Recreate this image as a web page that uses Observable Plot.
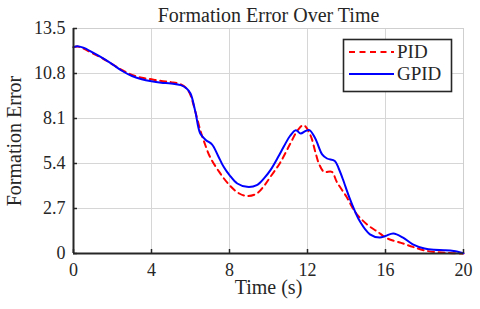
<!DOCTYPE html>
<html>
<head>
<meta charset="utf-8">
<script src="https://cdn.jsdelivr.net/npm/d3@7"></script>
<script src="https://cdn.jsdelivr.net/npm/@observablehq/plot@0.6"></script>
<style>
  html, body { margin: 0; padding: 0; background: #fff; }
  #chart { width: 480px; height: 309px; }
  #chart svg, #chart svg text { font-family: "Liberation Serif", "Times New Roman", "DejaVu Serif", serif !important; }
</style>
</head>
<body>
<div id="chart"></div>
<script>
// ---- data ----
const title = "Formation Error Over Time";
const xLabel = "Time (s)";
const yLabel = "Formation Error";
const xTicks = [0, 4, 8, 12, 16, 20];
const yTicks = [0, 2.7, 5.4, 8.1, 10.8, 13.5];
const yTickLabels = ["0", "2.7", "5.4", "8.1", "10.8", "13.5"];
const seriesNames = ["PID", "GPID"];

const pidT = [0, 0.2, 0.5, 1, 1.5, 2, 2.5, 3, 3.5, 4, 4.5, 5, 5.5, 5.8, 6.0, 6.25, 6.5, 6.7, 7.0, 7.5, 8.0, 8.5, 8.9, 9.4, 9.8, 10.1, 10.6, 11.1, 11.5, 11.8, 12.15, 12.4, 12.6, 12.85, 13.25, 13.5, 14.0, 14.5, 15.1, 15.6, 16.1, 16.8, 17.4, 18.1, 19.1, 20];
const pidE = [12.38, 12.42, 12.3, 12.0, 11.7, 11.35, 11.0, 10.72, 10.55, 10.45, 10.35, 10.28, 10.15, 9.9, 9.5, 8.5, 7.4, 6.7, 5.8, 4.85, 4.1, 3.6, 3.45, 3.6, 4.1, 4.6, 5.45, 6.55, 7.4, 7.7, 7.1, 6.1, 5.35, 4.9, 4.9, 4.3, 3.4, 2.4, 1.7, 1.3, 0.9, 0.64, 0.4, 0.16, 0.04, 0.0];

const gpidT = [0, 0.2, 0.5, 1, 1.5, 2, 2.5, 3, 3.5, 4, 4.5, 5, 5.5, 5.8, 6.0, 6.25, 6.5, 6.8, 7.1, 7.4, 7.7, 8.0, 8.4, 8.9, 9.4, 9.8, 10.1, 10.5, 10.8, 11.1, 11.4, 11.65, 11.9, 12.1, 12.4, 12.75, 13.0, 13.4, 13.6, 13.8, 14.2, 14.7, 15.2, 15.7, 16.0, 16.4, 16.9, 17.4, 18.0, 18.5, 19.0, 19.5, 20];
const gpidE = [12.38, 12.44, 12.35, 12.05, 11.72, 11.35, 10.95, 10.65, 10.45, 10.33, 10.25, 10.2, 10.1, 9.9, 9.6, 8.5, 7.2, 6.8, 6.55, 5.9, 5.2, 4.7, 4.2, 4.0, 4.1, 4.55, 5.0, 5.8, 6.45, 7.05, 7.4, 7.2, 7.35, 7.4, 6.9, 5.95, 5.7, 5.55, 5.1, 4.5, 3.2, 1.9, 1.15, 0.96, 1.05, 1.2, 0.95, 0.55, 0.3, 0.22, 0.2, 0.15, 0.02];

const colors = {PID: "#ff0000", GPID: "#0000ff"};

const pid = pidT.map((t, i) => ({t, e: pidE[i]}));
const gpid = gpidT.map((t, i) => ({t, e: gpidE[i]}));

const W = 480, H = 309;
const mL = 73, mR = 17, mT = 28, mB = 56;
const pw = W - mL - mR, ph = H - mT - mB;
const font = "'Liberation Serif', 'Times New Roman', 'DejaVu Serif', serif";
const dark = "#262626";

const chart = Plot.plot({
  width: W, height: H,
  marginLeft: mL, marginRight: mR, marginTop: mT, marginBottom: mB,
  style: {fontFamily: font, fontSize: "18px", background: "#fff", color: dark},
  x: {domain: [0, 20], label: null},
  y: {domain: [0, 13.5], label: null},
  marks: [
    Plot.gridX(xTicks, {stroke: "#d6d6d6", strokeOpacity: 1, strokeWidth: 1}),
    Plot.gridY(yTicks, {stroke: "#d6d6d6", strokeOpacity: 1, strokeWidth: 1}),
    Plot.frame({stroke: "#cfcfcf", strokeWidth: 1}),
    Plot.line(pid, {x: "t", y: "e", stroke: colors.PID, strokeWidth: 2, strokeDasharray: "6,4.5", curve: "catmull-rom"}),
    Plot.line(gpid, {x: "t", y: "e", stroke: colors.GPID, strokeWidth: 2, curve: "catmull-rom"}),
    Plot.ruleX([0], {stroke: dark, strokeWidth: 2}),
    Plot.ruleY([0], {stroke: dark, strokeWidth: 2}),
    Plot.tickX(xTicks, {x: d => d, stroke: dark, strokeWidth: 1.5, insetTop: ph - 4}),
    Plot.tickY(yTicks, {y: d => d, stroke: dark, strokeWidth: 1.5, insetRight: pw - 4}),
    Plot.axisX(xTicks, {tickSize: 0, tickPadding: 10, fontSize: 18, label: null, fill: dark}),
    Plot.axisY(yTicks, {tickSize: 0, tickPadding: 8, fontSize: 18, label: null, fill: dark,
      tickFormat: (d, i) => yTickLabels[i]}),
    Plot.text([title], {frameAnchor: "top", lineAnchor: "middle", textAnchor: "middle", dy: -13, fontSize: 20, fill: dark}),
    Plot.text([xLabel], {frameAnchor: "bottom", lineAnchor: "middle", textAnchor: "middle", dy: 34, fontSize: 20, fill: dark}),
    Plot.text([yLabel], {frameAnchor: "left", lineAnchor: "middle", textAnchor: "middle", dx: -59, rotate: -90, fontSize: 20, fill: dark})
  ]
});

document.getElementById("chart").appendChild(chart);

// ---- legend ----
const svg = d3.select(chart);
const lg = svg.append("g").attr("font-family", font).attr("font-size", 19).attr("text-anchor", "start");
lg.append("rect").attr("x", 343.5).attr("y", 39.5).attr("width", 108).attr("height", 52)
  .attr("fill", "#fff").attr("stroke", dark).attr("stroke-width", 1.6);
seriesNames.forEach((name, i) => {
  const y = 52 + i * 22;
  lg.append("line").attr("x1", 349).attr("x2", 394).attr("y1", y).attr("y2", y)
    .attr("stroke", colors[name]).attr("stroke-width", 2)
    .attr("stroke-dasharray", name === "PID" ? "6,4.5" : null);
  lg.append("text").attr("x", 397).attr("y", y).attr("dy", "0.33em")
    .attr("text-anchor", "start").attr("fill", dark).text(name);
});
</script>
</body>
</html>
